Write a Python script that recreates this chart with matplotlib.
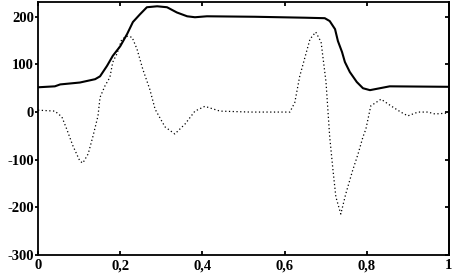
import numpy as np
import matplotlib.pyplot as plt

# Durchgezogene Kurve
x_solid = [0, 0.041, 0.054, 0.102, 0.139, 0.151, 0.168, 0.182, 0.200, 0.217, 0.231,
           0.248, 0.265, 0.290, 0.314, 0.338, 0.363, 0.382, 0.411, 0.528, 0.650,
           0.698, 0.710, 0.723, 0.730, 0.740, 0.747, 0.759, 0.776, 0.791, 0.808,
           0.832, 0.856, 1.0]
y_solid = [52, 54, 58, 62, 69, 75, 97, 118, 138, 164, 189,
           205, 220, 222, 220, 209, 201, 199, 201, 200, 198,
           197, 191, 174, 149, 126, 105, 84, 63, 50, 46,
           50, 54, 53]

# Gepunktete Kurve
x_dot = [0, 0.041, 0.058, 0.070, 0.085, 0.102, 0.109, 0.122, 0.134, 0.146, 0.151,
         0.163, 0.175, 0.182, 0.192, 0.204, 0.217, 0.229, 0.241, 0.255, 0.272,
         0.285, 0.309, 0.333, 0.358, 0.382, 0.406, 0.443, 0.516,
         0.613, 0.625, 0.637, 0.662, 0.676, 0.689, 0.701, 0.710, 0.718, 0.725,
         0.737, 0.749, 0.766, 0.779, 0.791, 0.798, 0.810, 0.835, 0.859, 0.883,
         0.900, 0.925, 0.949, 0.966, 1.0]
y_dot = [4, 2, -10, -36, -71, -103, -107, -88, -50, -8, 31,
         55, 73, 105, 122, 153, 159, 157, 132, 90, 48,
         6, -31, -46, -25, 2, 12, 2, 0,
         0, 20, 75, 153, 168, 147, 63, -52, -122, -178,
         -214, -172, -122, -88, -52, -36, 13, 27, 13, 0,
         -8, 0, 0, -4, -2]

x_ticks = [0, 0.2, 0.4, 0.6, 0.8, 1]
x_labels = ["0", "0,2", "0,4", "0,6", "0,8", "1"]
y_ticks = [-300, -200, -100, 0, 100, 200]

plt.rcParams['font.family'] = ['Liberation Serif', 'DejaVu Serif']
plt.rcParams['font.weight'] = 'bold'

fig = plt.figure(figsize=(4.58, 2.77), dpi=100)
ax = fig.add_axes([0.083, 0.0794, 0.897, 0.9134])

ax.plot(x_solid, y_solid, color="black", linewidth=1.5)
ax.plot(x_dot, y_dot, color="black", linewidth=0.9, linestyle=(0, (1, 2)))

ax.set_xlim(0, 1)
ax.set_ylim(-300, 231)
ax.set_xticks(x_ticks)
ax.set_xticklabels(x_labels)
ax.set_yticks(y_ticks)
ax.set_yticklabels([str(v) for v in y_ticks])

for s in ax.spines.values():
    s.set_linewidth(1.3)

ax.tick_params(axis="x", direction="in", top=True, length=3, width=1.3,
               labelsize=10.5, pad=3)
ax.tick_params(axis="y", direction="out", right=False, length=2, width=1.3,
               labelsize=10.5, pad=1)
# innere Ticks rechts
ax2 = ax.secondary_yaxis("right")
ax2.set_yticks(y_ticks)
ax2.tick_params(direction="in", length=3, width=1.3, labelright=False)
ax2.spines["right"].set_linewidth(1.3)

for lab in ax.get_xticklabels() + ax.get_yticklabels():
    lab.set_fontweight("bold")

fig.savefig("out.png", dpi=100)
